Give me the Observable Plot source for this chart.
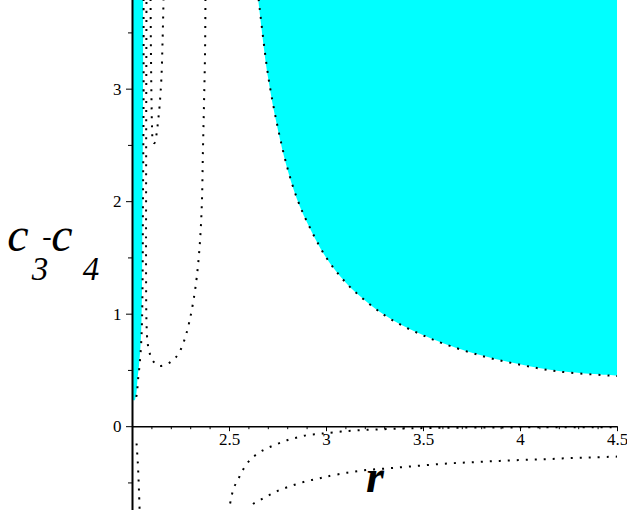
<!DOCTYPE html>
<html>
<head>
<meta charset="utf-8">
<script src="https://cdn.jsdelivr.net/npm/d3@7"></script>
<script src="https://cdn.jsdelivr.net/npm/@observablehq/plot@0.6"></script>
<style>
  html, body { margin: 0; padding: 0; background: #ffffff; }
  #chart svg { display: block; }
</style>
</head>
<body>
<div id="chart"></div>
<script>
// ---- data ----
const xMin = 2, xMax = 4.5;
const yMin = -0.745, yMax = 3.788;

// boundary of the large cyan region (dotted curve)
const bigBoundaryR = [2.65, 2.70, 2.75, 2.80, 2.85, 2.90, 3.0, 3.1, 3.2, 3.3, 3.4, 3.5, 3.6, 3.8, 4.0, 4.2, 4.5];
const bigBoundaryC = [3.80, 3.11, 2.65, 2.29, 2.02, 1.82, 1.50, 1.28, 1.12, 0.99, 0.89, 0.81, 0.74, 0.63, 0.55, 0.49, 0.45];

// boundary of the thin cyan strip next to the vertical axis
const stripR = [2.057, 2.057, 2.054, 2.052, 2.049, 2.044, 2.036, 2.028, 2.023, 2.015];
const stripC = [3.80, 2.90, 2.01, 1.30, 0.94, 0.72, 0.54, 0.41, 0.30, 0.23];

// narrow U-shaped dotted curve near the top
const narrowUR = [2.093, 2.095, 2.098, 2.101, 2.106, 2.113, 2.122, 2.131, 2.140, 2.149, 2.155, 2.160];
const narrowUC = [3.80, 3.34, 2.90, 2.65, 2.53, 2.52, 2.58, 2.70, 2.86, 3.10, 3.43, 3.80];

// wide U-shaped dotted curve
const bigUR = [2.376, 2.374, 2.369, 2.363, 2.358, 2.348, 2.332, 2.314, 2.294, 2.273, 2.247, 2.220, 2.182, 2.136, 2.103, 2.086, 2.077, 2.072, 2.070, 2.070, 2.072];
const bigUC = [3.80, 3.34, 2.90, 2.45, 2.01, 1.65, 1.34, 1.12, 0.94, 0.80, 0.68, 0.61, 0.56, 0.54, 0.59, 0.67, 0.76, 0.94, 1.30, 2.01, 3.80];

// dotted curve below the axis close to r = 2
const lowLeftR = [2.021, 2.024, 2.027, 2.031, 2.034, 2.037];
const lowLeftC = [-0.15, -0.23, -0.31, -0.46, -0.60, -0.76];

// dotted curve approaching 0 from below
const low1R = [2.495, 2.502, 2.522, 2.543, 2.565, 2.591, 2.620, 2.660, 2.703, 2.754, 2.801, 2.852, 2.904, 2.960, 3.004, 3.115, 3.223, 3.330, 3.433, 3.6, 4.0, 4.5];
const low1C = [-0.76, -0.693, -0.545, -0.474, -0.397, -0.326, -0.273, -0.222, -0.184, -0.148, -0.118, -0.095, -0.074, -0.065, -0.056, -0.038, -0.027, -0.020, -0.015, -0.010, -0.006, -0.004];

// lower dotted curve
const low2R = [2.603, 2.617, 2.660, 2.706, 2.751, 2.801, 2.849, 2.901, 2.948, 3.000, 3.107, 3.210, 3.313, 3.416, 3.527, 3.636, 3.739, 3.845, 3.948, 4.055, 4.155, 4.266, 4.370, 4.476, 4.5];
const low2C = [-0.76, -0.696, -0.649, -0.607, -0.569, -0.536, -0.509, -0.483, -0.465, -0.444, -0.409, -0.385, -0.371, -0.356, -0.340, -0.326, -0.317, -0.308, -0.300, -0.293, -0.287, -0.278, -0.273, -0.267, -0.266];

// ticks
const xMajorTicks = [2.5, 3, 3.5, 4, 4.5];
const xTickLabels = ["2.5", "3", "3.5", "4", "4.5"];
const xMinorTicks = [2.1, 2.2, 2.3, 2.4, 2.6, 2.7, 2.8, 2.9, 3.1, 3.2, 3.3, 3.4, 3.6, 3.7, 3.8, 3.9, 4.1, 4.2, 4.3, 4.4];
const yMajorTicks = [0, 1, 2, 3];
const yTickLabels = ["0", "1", "2", "3"];
const yMinorTicks = [-0.5, 0.5, 1.5, 2.5, 3.5];

// ---- build ----
const zip = (rs, cs) => rs.map((r, i) => ({r, c: cs[i]}));
const bigBoundary = zip(bigBoundaryR, bigBoundaryC);
const strip = zip(stripR, stripC);
const narrowU = zip(narrowUR, narrowUC);
const bigU = zip(bigUR, bigUC);
const lowLeft = zip(lowLeftR, lowLeftC);
const low1 = zip(low1R, low1C);
const low2 = zip(low2R, low2C);

const W = 627, H = 510, ML = 132, MR = 10;
const pxX = (W - ML - MR) / (xMax - xMin);
const pxY = H / (yMax - yMin);
const cyan = "#00ffff";
const serif = "\"Liberation Serif\", \"Times New Roman\", serif";
const dotted = {stroke: "black", strokeWidth: 2, strokeDasharray: "2,7", strokeLinecap: "butt", curve: "catmull-rom"};

const plot = Plot.plot({
  width: W,
  height: H,
  marginLeft: ML,
  marginRight: MR,
  marginTop: 0,
  marginBottom: 0,
  x: {domain: [xMin, xMax], axis: null},
  y: {domain: [yMin, yMax], axis: null},
  style: {background: "#ffffff", overflow: "visible", fontFamily: serif, fontSize: "17px"},
  marks: [
    Plot.areaY(bigBoundary, {x: "r", y1: "c", y2: yMax, fill: cyan, curve: "catmull-rom", clip: true}),
    Plot.areaX(strip, {y: "c", x1: xMin, x2: "r", fill: cyan, curve: "catmull-rom", clip: true}),
    Plot.line(bigBoundary, {x: "r", y: "c", ...dotted, clip: true}),
    Plot.line(strip, {x: "r", y: "c", ...dotted, clip: true}),
    Plot.line(narrowU, {x: "r", y: "c", ...dotted, clip: true}),
    Plot.line(bigU, {x: "r", y: "c", ...dotted, clip: true}),
    Plot.line(lowLeft, {x: "r", y: "c", ...dotted, clip: true}),
    Plot.line(low1, {x: "r", y: "c", ...dotted, clip: true}),
    Plot.line(low2, {x: "r", y: "c", ...dotted, clip: true}),
    // axes
    Plot.ruleX([xMin], {stroke: "black", strokeWidth: 2}),
    Plot.ruleY([0], {x1: xMin, x2: xMax, stroke: "black", strokeWidth: 1.6}),
    // x ticks (downwards)
    Plot.ruleX(xMajorTicks, {x: d => d, y1: 0, y2: -5 / pxY, stroke: "black", strokeWidth: 1}),
    Plot.ruleX(xMinorTicks, {x: d => d, y1: 0, y2: -3 / pxY, stroke: "black", strokeWidth: 1}),
    // y ticks (leftwards)
    Plot.ruleY(yMajorTicks, {y: d => d, x1: xMin, x2: xMin - 6 / pxX, stroke: "black", strokeWidth: 1}),
    Plot.ruleY(yMinorTicks, {y: d => d, x1: xMin, x2: xMin - 4 / pxX, stroke: "black", strokeWidth: 1}),
    // tick labels
    Plot.text(xMajorTicks, {x: d => d, y: 0, text: (d, i) => xTickLabels[i], dy: 13, fontSize: 17, fill: "black"}),
    Plot.text(yMajorTicks, {x: xMin, y: d => d, text: (d, i) => yTickLabels[i], dx: -11, textAnchor: "end", fontSize: 17, fill: "black"})
  ]
});

document.getElementById("chart").appendChild(plot);

const svg = d3.select(plot);
svg.selectAll("text").style("font-family", serif).style("font-size", "17px");

// axis titles
const t = svg.append("g").attr("fill", "black");
t.append("text").attr("x", 375).attr("y", 492)
  .style("font-family", serif).style("font-size", "46px")
  .style("font-style", "italic").style("font-weight", "bold").text("r");
const addT = (x, y, size, s, italic = true) =>
  t.append("text").attr("x", x).attr("y", y)
    .style("font-family", serif).style("font-size", size + "px")
    .style("font-style", italic ? "italic" : "normal").text(s);
addT(18, 251, 48, "c");
addT(40, 280, 33, "3");
addT(47, 245, 28, "-", false);
addT(62, 251, 48, "c");
addT(91, 280, 33, "4");
</script>
</body>
</html>
